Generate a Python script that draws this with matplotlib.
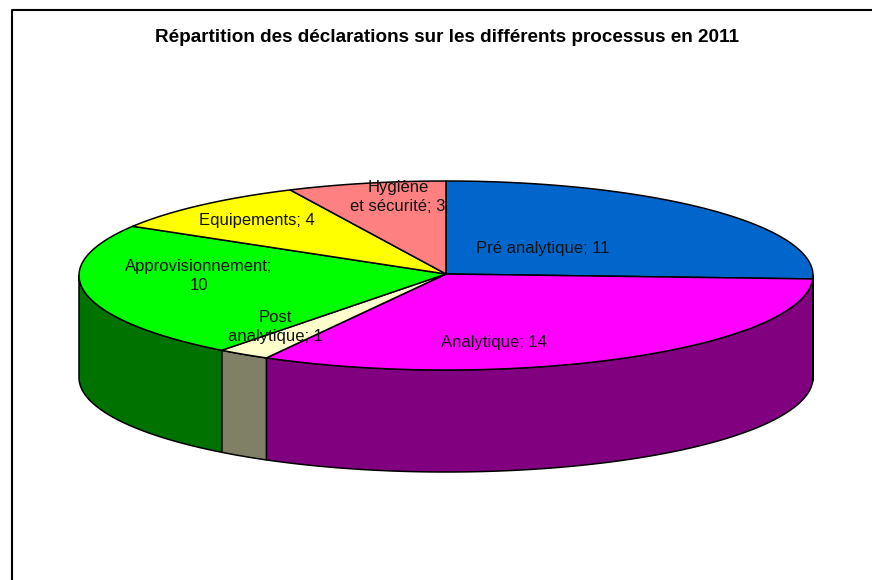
import numpy as np
from matplotlib import pyplot as plt

values = [11, 14, 1, 10, 4, 3]
top_colors = ["#0066CC", "#FF00FF", "#FFFFCC", "#00FF00", "#FFFF00", "#FF8080"]
side_colors = ["#003366", "#800080", "#808066", "#007200", "#808000", "#804040"]

label_text = ["Pré analytique; 11", "Analytique; 14", "Post\nanalytique; 1",
              "Approvisionnement;\n10", "Equipements; 4", "Hygiène\net sécurité; 3"]
label_pos = [(543, 248), (494, 342), (275, 327), (199, 276), (257, 220), (398, 197)]

plt.rcParams['font.family'] = ['Liberation Sans', 'DejaVu Sans']

cx, cy = 446, 275.5
hub_y = 274
rx, ry = 367, 94.5
depth = 102


def ell(a):
    # a is clockwise from 12 o'clock, in degrees
    a = np.radians(a)
    return cx + rx * np.sin(a), cy - ry * np.cos(a)


fig = plt.figure(figsize=(8.72, 5.80), dpi=100)
ax = fig.add_axes([0, 0, 1, 1])
ax.set_xlim(0, 872)
ax.set_ylim(580, 0)
ax.axis("off")

# chart border
ax.plot([12, 12, 872], [580, 10, 10], color="black", lw=1.5)

edges = np.cumsum([0] + values) / sum(values) * 360

# side wall first
for i in range(len(values)):
    a0, a1 = max(edges[i], 90), min(edges[i + 1], 270)
    if a1 <= a0:
        continue
    x, y = ell(np.linspace(a0, a1, 120))
    ax.fill(np.r_[x, x[::-1]], np.r_[y, y[::-1] + depth],
            facecolor=side_colors[i], edgecolor="black", lw=1.1, joinstyle="round")

# top face
for i in range(len(values)):
    x, y = ell(np.linspace(edges[i], edges[i + 1], 200))
    ax.fill(np.r_[cx, x], np.r_[hub_y, y], facecolor=top_colors[i], edgecolor="black",
            lw=1.1, joinstyle="round")

for txt, (px, py) in zip(label_text, label_pos):
    ax.text(px, py, txt, ha="center", va="center", fontsize=12, color="#111111",
            linespacing=1.3)

ax.text(446.5, 37, "Répartition des déclarations sur les différents processus en 2011",
        ha="center", va="center", fontsize=13.55, fontweight="bold", color="black")

fig.savefig("out.png", dpi=100, facecolor="white")
